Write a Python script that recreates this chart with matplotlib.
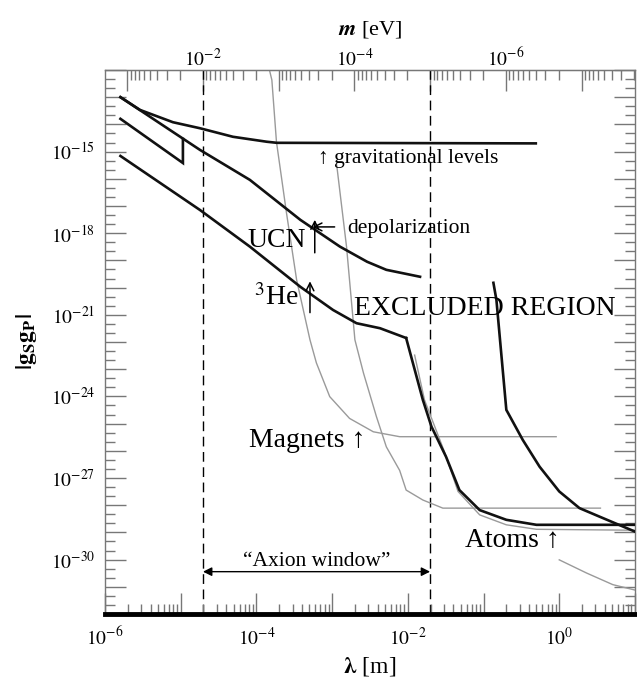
import numpy as np
import matplotlib
matplotlib.use("Agg")
import matplotlib.pyplot as plt
from matplotlib.ticker import FixedLocator, FuncFormatter, NullFormatter

plt.rcParams['font.family'] = ['Liberation Serif', 'DejaVu Serif']
plt.rcParams['mathtext.fontset'] = 'stix'

HBARC = 1.97e-7  # eV m, converts lambda <-> m

# limits: lambda [m], |gS gP|
grav_lam = [1.6e-6, 2.9e-6, 7.9e-6, 1.8e-5, 4.9e-5, 1.37e-4, 1.86e-4, 0.49]
grav_g = [1.0e-13, 3.4e-14, 1.2e-14, 7.2e-15, 3.5e-15, 2.3e-15, 2.1e-15, 2.0e-15]

ucn_lam = [1.6e-6, 1.8e-5, 8.2e-5, 3.8e-4, 1.27e-3, 2.9e-3, 5.2e-3, 1.45e-2]
ucn_g = [1.0e-13, 1.15e-15, 9.1e-17, 3.1e-18, 3.2e-19, 8.9e-20, 4.5e-20, 2.5e-20]

step_lam = [1.6e-6, 1.07e-5, 1.07e-5]
step_g = [1.6e-14, 3.8e-16, 2.9e-15]

he3_lam = [1.6e-6, 1.8e-5, 8.2e-5, 3.8e-4, 1.03e-3, 2.1e-3, 4.3e-3, 9.5e-3]
he3_g = [6.9e-16, 7.1e-18, 3.2e-19, 1.07e-20, 1.5e-21, 4.9e-22, 3.2e-22, 1.4e-22]

atoms1_lam = [9.5e-3, 1.58e-2, 2.05e-2, 3.2e-2, 4.8e-2, 8.9e-2, 0.2, 0.5, 10]
atoms1_g = [1.4e-22, 7.4e-25, 7.8e-26, 6.0e-27, 3.6e-28, 6.6e-29, 2.9e-29, 1.9e-29, 1.9e-29]

atoms2_lam = [0.135, 0.148, 0.2, 0.33, 0.55, 1.0, 1.85, 3.4, 10]
atoms2_g = [1.5e-20, 3.5e-21, 3.2e-25, 2.5e-26, 2.6e-27, 3.2e-28, 7.8e-29, 3.8e-29, 1.07e-29]

# gray curves
magnets_lam = [1.35e-4, 1.6e-4, 1.84e-4, 2.5e-4, 3.4e-4, 5.1e-4, 6.2e-4, 9.3e-4, 1.7e-3, 3.5e-3, 7.8e-3, 0.91]
magnets_g = [3e-12, 4.3e-13, 2.3e-15, 5.4e-18, 1.9e-20, 1.2e-22, 1.7e-23, 9.8e-25, 1.55e-25, 5.0e-26, 3.3e-26, 3.3e-26]

grayb_lam = [1.15e-3, 1.55e-3, 2.0e-3, 2.6e-3, 3.85e-3, 5.2e-3, 7.8e-3, 9.5e-3, 1.58e-2, 2.9e-2, 3.5]
grayb_g = [3.2e-16, 3.2e-19, 1.2e-22, 7.1e-24, 1.8e-25, 1.4e-26, 1.9e-27, 3.6e-28, 1.55e-28, 7.8e-29, 7.8e-29]

grayc_lam = [1.23e-2, 1.66e-2, 3.05e-2, 4.6e-2, 8.9e-2, 0.2, 0.5, 10]
grayc_g = [3.3e-23, 7.4e-25, 9.1e-27, 3.2e-28, 4.4e-29, 1.9e-29, 1.3e-29, 1.2e-29]

grayd_lam = [1.0, 2.3, 5.1, 10]
grayd_g = [9.8e-31, 3.2e-31, 1.2e-31, 7.6e-32]

axion_m = [1e-2, 1e-5]  # eV, edges of the axion window

lam_dec = list(range(-6, 2))
m_dec = list(range(-7, 0))
g_dec = list(range(-32, -11))

fig = plt.figure(figsize=(6.37, 6.82), dpi=100)
ax = fig.add_axes([0.1648, 0.0997, 0.8320, 0.7977])
ax.set_xscale('log')
ax.set_yscale('log')
ax.set_xlim(1e-6, 10)
ax.set_ylim(1e-32, 1e-12)

gray = '#9a9a9a'
for lam, g in [(magnets_lam, magnets_g), (grayb_lam, grayb_g), (grayc_lam, grayc_g), (grayd_lam, grayd_g)]:
    ax.plot(lam, g, color=gray, lw=1.0, zorder=2)
for lam, g in [(grav_lam, grav_g), (ucn_lam, ucn_g), (step_lam, step_g), (he3_lam, he3_g),
               (atoms1_lam, atoms1_g), (atoms2_lam, atoms2_g)]:
    ax.plot(lam, g, color='#111111', lw=1.9, zorder=3, solid_joinstyle='miter')

win = [HBARC / m for m in axion_m]
for w in win:
    ax.axvline(w, color='black', lw=1.0, ls=(0, (7, 4)), zorder=1)
ax.annotate('', xy=(win[1], 3.6e-31), xytext=(win[0], 3.6e-31),
            arrowprops=dict(arrowstyle='<|-|>', color='black', lw=1.0,
                            mutation_scale=13, shrinkA=0, shrinkB=0))
ax.text(np.sqrt(win[0] * win[1]), 8.5e-31, '\u201cAxion window\u201d', fontsize=15.5,
        ha='center', va='center')

# labels
thin = dict(arrowstyle='->', color='black', lw=1.1, mutation_scale=14, shrinkA=0, shrinkB=0)
ax.text(6.5e-4, 3.7e-16, '\u2191 gravitational levels', fontsize=15.5, va='baseline')
ax.annotate('', xy=(5.5e-4, 1.7e-18), xytext=(1.08e-3, 1.7e-18), arrowprops=thin)
ax.text(1.6e-3, 1.0e-18, 'depolarization', fontsize=15.5, va='baseline')
ax.text(7.6e-5, 3.2e-19, 'UCN', fontsize=20, va='baseline')
ax.annotate('', xy=(5.9e-4, 3.1e-18), xytext=(5.9e-4, 1.9e-19), arrowprops=thin)
ax.text(9.3e-5, 2.3e-21, r'$^3$He', fontsize=20, va='baseline')
ax.annotate('', xy=(5.1e-4, 1.7e-20), xytext=(5.1e-4, 1.2e-21), arrowprops=thin)
ax.text(1.93e-3, 1.0e-21, 'EXCLUDED REGION', fontsize=20, va='baseline')
ax.text(7.9e-5, 1.35e-26, 'Magnets \u2191', fontsize=20, va='baseline')
ax.text(5.7e-2, 2.9e-30, 'Atoms \u2191', fontsize=20, va='baseline')

# axes styling
axc = '#777777'
for s in ['left', 'right', 'top']:
    ax.spines[s].set_color(axc)
    ax.spines[s].set_linewidth(1.0)
ax.spines['bottom'].set_linewidth(3.5)
ax.spines['bottom'].set_color('black')

def even_pow(v, pos):
    e = int(round(np.log10(v)))
    return r'$10^{%d}$' % e if e % 2 == 0 else ''

def every_third(v, pos):
    e = int(round(np.log10(v)))
    return r'$10^{%d}$' % e if e % 3 == 0 and -30 <= e <= -15 else ''

ax.xaxis.set_major_locator(FixedLocator([10.0 ** k for k in lam_dec]))
ax.xaxis.set_minor_locator(FixedLocator([s * 10.0 ** k for k in lam_dec[:-1] for s in range(2, 10)]))
ax.xaxis.set_major_formatter(FuncFormatter(even_pow))
ax.xaxis.set_minor_formatter(NullFormatter())

ax.yaxis.set_major_locator(FixedLocator([10.0 ** k for k in g_dec]))
ax.yaxis.set_minor_locator(FixedLocator([10.0 ** (k + f) for k in g_dec for f in (1 / 3, 2 / 3)]))
ax.yaxis.set_major_formatter(FuncFormatter(every_third))
ax.yaxis.set_minor_formatter(NullFormatter())

ax.tick_params(which='both', direction='in', color=axc, width=1.0, labelsize=14)
ax.tick_params(axis='y', which='both', left=True, right=True, pad=7)
ax.tick_params(axis='x', which='both', bottom=True, top=False, pad=9)
ax.tick_params(which='major', length=15)
ax.tick_params(which='minor', length=7)

ax.set_xlabel(r'$\mathbf{\lambda}$ [m]', fontsize=17)
ax.xaxis.set_label_coords(0.5, -0.075)
ax.set_ylabel(r'$\mathbf{|g_{S}g_{P}|}$', fontsize=17)
ax.yaxis.set_label_coords(-0.125, 0.5)

sec = ax.secondary_xaxis('top', functions=(lambda x: HBARC / x, lambda x: HBARC / x))
sec.xaxis.set_major_locator(FixedLocator([10.0 ** k for k in m_dec]))
sec.xaxis.set_minor_locator(FixedLocator([s * 10.0 ** k for k in m_dec[:-1] + [-8] for s in range(2, 10)]))
sec.xaxis.set_major_formatter(FuncFormatter(even_pow))
sec.xaxis.set_minor_formatter(NullFormatter())
sec.tick_params(which='both', direction='in', color=axc, width=1.0, labelsize=14, pad=0)
sec.tick_params(which='major', length=15)
sec.tick_params(which='minor', length=7)
sec.spines['top'].set_color(axc)
sec.set_xlabel(r'$\mathbfit{m}$ [eV]', fontsize=16, labelpad=9)

fig.savefig('out.png', dpi=100)
